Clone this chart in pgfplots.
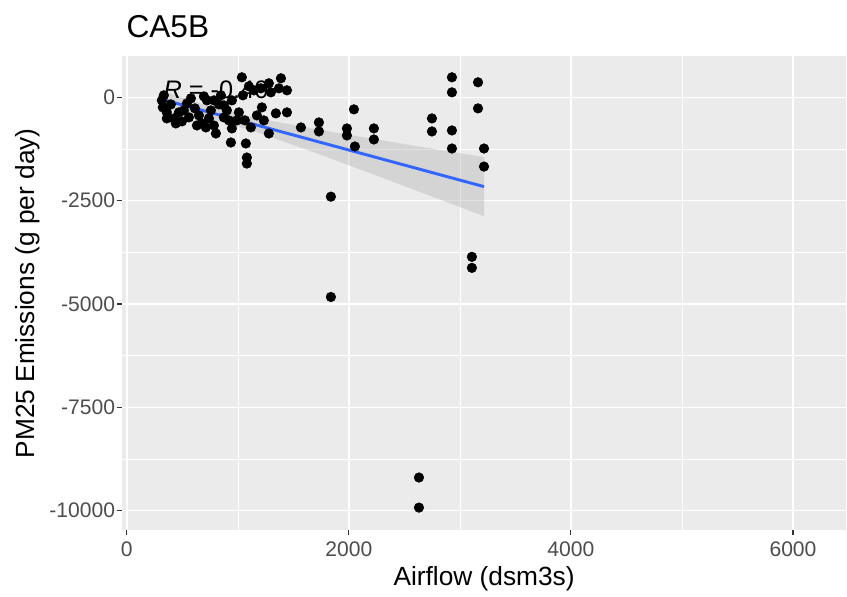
\documentclass[border={8.5pt 1pt 0pt 8.5pt}]{standalone}
\usepackage{pgfplots}
\pgfplotsset{compat=1.18}
\usepgfplotslibrary{fillbetween}
\usepackage{fontspec}
\setmainfont{Liberation Sans}

\definecolor{panelbg}{HTML}{EBEBEB}
\definecolor{ticktext}{HTML}{4D4D4D}
\definecolor{tickline}{HTML}{333333}
\definecolor{fitblue}{HTML}{3366FF}

\begin{document}
\begin{tikzpicture}
\begin{axis}[
    scale only axis,
    width=543pt, height=355.5pt,
    xmin=-45, xmax=6480,
    ymin=-10480, ymax=995,
    xtick={0,2000,4000,6000},
    ytick={-10000,-7500,-5000,-2500,0},
    minor xtick={1000,3000,5000},
    minor ytick={-8750,-6250,-3750,-1250},
    scaled x ticks=false, scaled y ticks=false,
    grid=both,
    major grid style={white, line width=1.1pt},
    minor grid style={white, line width=0.55pt},
    axis background/.style={fill=panelbg},
    axis line style={draw=none},
    tick align=outside,
    major tick length=3.75pt,
    minor tick length=0pt,
    major tick style={tickline, line width=0.8pt},
    xtick pos=bottom, ytick pos=left,
    /pgf/number format/assume math mode=true,
    /pgf/number format/set thousands separator={},
    ticklabel style={font=\fontsize{15.8}{18}\selectfont, text=ticktext},
    yticklabel style={xshift=2.2pt},
    xticklabel style={yshift=-1.5pt},
    xlabel={Airflow (dsm3s)},
    ylabel={PM25 Emissions (g per day)},
    label style={font=\fontsize{19.7}{23}\selectfont},
    title={CA5B},
    title style={font=\fontsize{23.7}{28}\selectfont, at={(0,1)}, anchor=south west, yshift=4pt},
    clip=true,
]
% scatter points
\addplot[only marks, mark=*, mark size=3.6pt, black] coordinates {
(315,-73)(324,-243)(333,49)(360,-364)(396,-170)(423,-510)(441,-631)(496,-582)
(514,-316)(541,-146)(577,-24)(613,-267)(649,-437)(676,-631)(694,24)(712,-728)
(721,-73)(757,-316)(784,-680)(802,-874)(829,-170)(847,49)(874,-485)(901,-316)
(937,-1092)(946,-752)(946,-73)(991,-558)(1036,485)(1045,49)(1072,-1116)(1081,-1456)
(1081,-1602)(1117,-728)(1144,170)(1171,-437)(1216,-243)(1234,-558)(1279,340)(1279,-874)
(1297,121)(1342,-388)(1370,218)(1388,461)(1442,170)(1442,-364)(1568,-728)(1730,-607)
(1730,-825)(1982,-752)(1982,-922)(2045,-291)(2054,-1189)(2225,-752)(2225,-1019)
(1838,-2403)(1838,-4830)(2631,-9198)(2631,-9926)(2748,-510)(2748,-825)(2928,485)
(2928,121)(2928,-801)(2928,-1238)(3108,-3859)(3108,-4126)(3163,364)(3163,-267)
(3217,-1238)(3217,-1675)(1099,267)(1207,218)(559,-485)(739,-510)(469,-364)(360,-510)
(784,-73)(631,-680)(919,-558)(1009,-364)(1063,-558)(874,-194)
};
% confidence band
\addplot[name path=up, draw=none, forget plot] coordinates {
(315,163)(700,-182)(1200,-519)(1700,-768)(2200,-996)(2700,-1218)(3217,-1444)};
\addplot[name path=lo, draw=none, forget plot] coordinates {
(315,-261)(700,-476)(1200,-867)(1700,-1344)(2200,-1844)(2700,-2350)(3217,-2876)};
\addplot[fill=gray!60, fill opacity=0.4, draw=none] fill between[of=up and lo];
% regression line
\addplot[fitblue, line width=2.2pt] coordinates {(315,-49)(3217,-2160)};
\node[anchor=base west, font=\fontsize{19}{22}\selectfont, text=black]
    at (axis cs:288,-24) {\textit{R} = -0.40};
\end{axis}
\end{tikzpicture}
\end{document}
